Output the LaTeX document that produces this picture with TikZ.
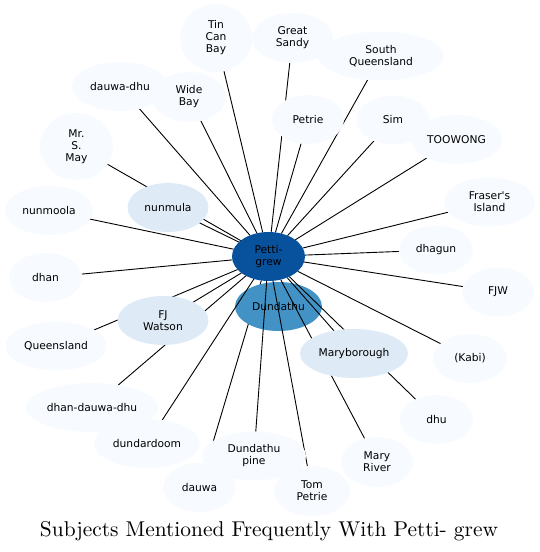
\documentclass[tikz,border=0pt]{standalone}
\usepackage{fontspec}
\usetikzlibrary{shapes.geometric}
\newfontfamily\dejavu{DejaVu Sans}
\newfontfamily\titlefont{lmroman10-regular.otf}
\definecolor{bA}{HTML}{08519C}
\definecolor{bB}{HTML}{4292C6}
\definecolor{bC}{HTML}{DEEBF7}
\definecolor{bD}{HTML}{F7FBFF}
\pgfdeclarelayer{edgeback}
\pgfdeclarelayer{nodeback}
\pgfdeclarelayer{edgefront}
\pgfsetlayers{edgeback,nodeback,edgefront,main}
\tikzset{
  ellbox/.style={ellipse, draw=none, inner sep=0pt, outer sep=0pt},
  txt/.style={align=center, inner sep=0pt, text=black, font=\dejavu\fontsize{10.7}{12}\selectfont},
  link/.style={draw=black, line width=0.9pt},
}
\newcommand\enode[7]{%
  \node[ellbox, fill=#6, minimum width=#4pt, minimum height=#5pt] (#1) at (#2,#3) {};
  \node[txt] at (#1) {#7};}
\begin{document}
\begin{tikzpicture}[x=1pt,y=-1pt]
\useasboundingbox (0,0) rectangle (540,552);
% leaf nodes
\enode{GS}{292.5}{38}{81}{50}{bD}{Great\\Sandy}
\enode{SQ}{381}{56}{126}{49}{bD}{South\\Queensland}
\enode{TCB}{216}{38}{72}{68}{bD}{Tin\\Can\\Bay}
\enode{DD}{120}{86.5}{96}{49}{bD}{dauwa-dhu}
\enode{WB}{189}{97}{74}{50}{bD}{Wide\\Bay}
\enode{MSM}{76.5}{146.5}{73}{67}{bD}{Mr.\\S.\\May}
\enode{NMO}{49}{210.5}{88}{49}{bD}{nunmoola}
\enode{PE}{308}{119.5}{72}{49}{bD}{Petrie}
\enode{SIM}{393}{120}{73}{49}{bD}{Sim}
\enode{TW}{456.5}{139.5}{91}{49}{bD}{TOOWONG}
\enode{FI}{489.5}{202}{91}{49}{bD}{Fraser\textquotesingle s\\Island}
\enode{DG}{436}{250}{74}{49}{bD}{dhagun}
\enode{DH}{45.5}{277.5}{73}{49}{bD}{dhan}
\enode{FJW}{498}{292}{72}{49}{bD}{FJW}
\enode{QL}{56}{346}{101}{49}{bD}{Queensland}
\enode{KB}{470}{358.5}{74}{49}{bD}{(Kabi)}
\enode{DDD}{92}{407.5}{132}{49}{bD}{dhan-dauwa-dhu}
\enode{DDM}{147}{443.5}{106}{49}{bD}{dundardoom}
\enode{DHU}{436.5}{419.5}{73}{49}{bD}{dhu}
\enode{MR}{377}{462}{72}{50}{bD}{Mary\\River}
\enode{DP}{254}{456}{104}{49}{bD}{Dundathu\\pine}
\enode{DW}{199.5}{487.5}{73}{49}{bD}{dauwa}
\enode{TP}{312}{491}{76}{50}{bD}{Tom\\Petrie}
% mid nodes
\enode{NM}{168}{207.5}{81}{49}{bC}{nunmula}
\enode{FJ}{163}{320.5}{91}{49}{bC}{FJ\\Watson}
\enode{MB}{354}{353.5}{108}{49}{bC}{Maryborough}
% centre
\enode{PG}{268.5}{256.5}{73}{49}{bA}{Petti-\\grew}
\begin{pgfonlayer}{nodeback}
\enode{DU}{278.5}{306.5}{87}{49}{bB}{Dundathu}
\end{pgfonlayer}
\begin{pgfonlayer}{edgeback}
\draw[link] (DW) -- (PG);
\end{pgfonlayer}
\begin{pgfonlayer}{edgefront}
\foreach \n in {TCB,GS,SQ,DD,WB,MSM,NM,NMO,PE,SIM,TW,FI,DG,DH,FJW,QL,KB,FJ,DDD,DDM,DP,TP,MR,MB,DHU}
  \draw[link] (\n) -- (PG);
\end{pgfonlayer}
% title
\node[anchor=base, inner sep=0pt, font=\titlefont\fontsize{21.4}{24}\selectfont] (title) at (269,536) {Subjects Mentioned Frequently With Petti- grew};
\end{tikzpicture}
\end{document}
